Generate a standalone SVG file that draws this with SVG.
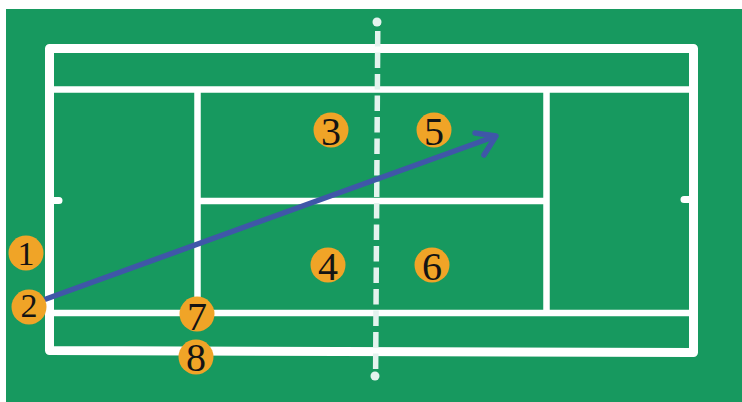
<svg xmlns="http://www.w3.org/2000/svg" width="742" height="402" viewBox="0 0 742 402">
<style>
.l{stroke:#fff;fill:none;stroke-linejoin:round}
.b{fill:#f0a427}
.t{font-family:"Liberation Serif","DejaVu Serif",serif;font-size:40px;fill:#141414;text-anchor:middle}
.s{font-size:34px}
.a{stroke:#3f57a8;fill:none;stroke-width:5.500;stroke-linecap:round;stroke-linejoin:round}
</style>
<rect x="0" y="0" width="742" height="402" fill="#fff"/>
<rect x="6" y="9" width="736" height="393" fill="#17995f"/>
<g id="court">
<path class="l" stroke-width="9" d="M49.500 48.500H693.500V352.500L49.500 350.500Z"/>
<path class="l" stroke-width="6.500" d="M50 89.500H692M50 313H692M197.500 90V313M546.500 90V313M197 201H546"/>
<path class="l" stroke-width="7" stroke-linecap="round" d="M50 200.500H59M692 199.500H684"/>
</g>
<g id="net">
<path stroke="#e4f3ee" stroke-width="5.500" fill="none" stroke-dasharray="15.500 6" stroke-dashoffset="14.500" d="M377.800 24L375.600 376"/>
<circle cx="377" cy="22" r="4.500" fill="#e4f3ee"/>
<circle cx="375" cy="376" r="4.500" fill="#e4f3ee"/>
</g>
<g id="connectors">
<path class="a" d="M46 299L496 136M475 133L496 136L484 155"/>
</g>
<g id="n1"><circle class="b" cx="26" cy="253" r="17.500"/><text class="t s" x="26" y="265">1</text></g>
<g id="n2"><circle class="b" cx="29" cy="307" r="17.500"/><text class="t s" x="29" y="317">2</text></g>
<g id="n3"><circle class="b" cx="331" cy="130" r="17.500"/><text class="t" x="331" y="145">3</text></g>
<g id="n4"><circle class="b" cx="328" cy="265" r="17.500"/><text class="t" x="328" y="280">4</text></g>
<g id="n5"><circle class="b" cx="434" cy="130" r="17.500"/><text class="t" x="434" y="145">5</text></g>
<g id="n6"><circle class="b" cx="432" cy="265" r="17.500"/><text class="t" x="432" y="280">6</text></g>
<g id="n7"><circle class="b" cx="197" cy="314" r="17.500"/><text class="t" x="197" y="330">7</text></g>
<g id="n8"><circle class="b" cx="196" cy="357" r="17.500"/><text class="t" x="196" y="371">8</text></g>
</svg>
